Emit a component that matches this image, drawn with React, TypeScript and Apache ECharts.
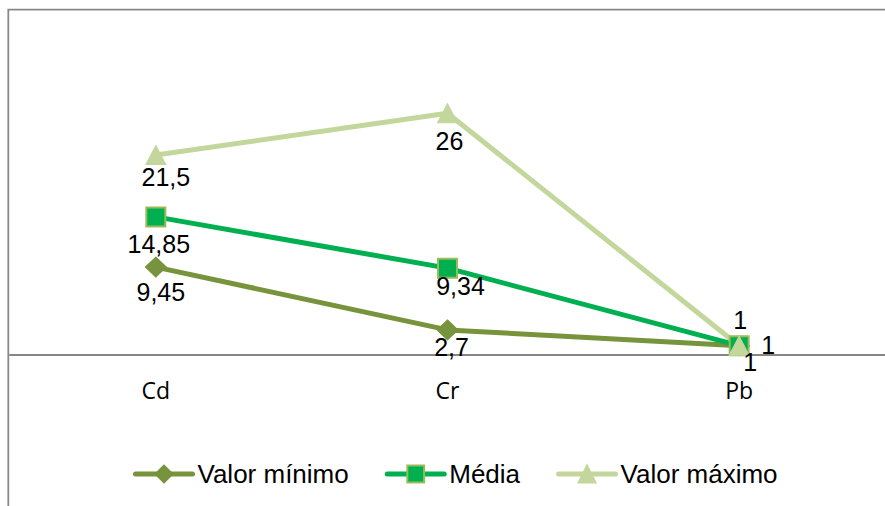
import React, { useEffect, useRef } from "react";
import * as echarts from "echarts";

// Elements and their measured concentrations
const categories = ["Cd", "Cr", "Pb"];
const valorMinimo = [9.45, 2.7, 1];
const media = [14.85, 9.34, 1];
const valorMaximo = [21.5, 26, 1];

// Data label placement (dx, dy from the marker centre), per point
const minLabelShift = [[5, 25], [4, 17], [11, 16]];
const mediaLabelShift = [[3, 27], [13, 18], [29, -1]];
const maxLabelShift = [[10, 22], [2, 28], [1, -26]];

const labelFont = "'Liberation Sans', Arial, sans-serif";

function withLabels(values: number[], shifts: number[][]) {
  return values.map((v, i) => ({
    value: v,
    label: { offset: shifts[i] },
  }));
}

export default function App() {
  const ref = useRef<HTMLDivElement>(null);

  useEffect(() => {
    if (!ref.current) return;
    const chart = echarts.init(ref.current, undefined, { renderer: "svg" });

    const baseLabel = {
      show: true,
      position: "inside",
      color: "#000",
      fontSize: 25,
      lineHeight: 22,
      fontFamily: labelFont,
      formatter: (p: any) => String(p.value).replace(".", ","),
    };

    chart.setOption({
      animation: false,
      backgroundColor: "#fff",
      grid: { left: 10, width: 883, top: 76, bottom: 151, containLabel: false },
      xAxis: {
        type: "category",
        data: categories,
        boundaryGap: true,
        axisLine: { show: true, lineStyle: { color: "#868686", width: 2 } },
        axisTick: { show: false },
        axisLabel: {
          color: "#000",
          fontSize: 23,
          lineHeight: 20,
          fontFamily: "'Open Sans', sans-serif",
          margin: 25,
        },
        splitLine: { show: false },
      },
      yAxis: {
        type: "value",
        min: 0,
        max: 30,
        show: false,
        splitLine: { show: false },
      },
      legend: {
        left: 133,
        top: 461,
        padding: 0,
        itemWidth: 57,
        itemHeight: 21,
        itemGap: 36,
        lineStyle: { width: 5, cap: "round" },
        textStyle: { color: "#000", fontSize: 26, fontFamily: labelFont },
        data: ["Valor mínimo", "Média", "Valor máximo"],
      },
      graphic: [
        {
          type: "rect",
          shape: { x: 8.3, y: 9.6, width: 1000, height: 1000 },
          style: { fill: "none", stroke: "#888888", lineWidth: 1.8 },
          silent: true,
          z: -1,
        },
      ],
      series: [
        {
          name: "Valor mínimo",
          type: "line",
          data: withLabels(valorMinimo, minLabelShift),
          symbol: "diamond",
          symbolSize: [21, 20],
          lineStyle: { color: "#77933C", width: 5, cap: "round" },
          itemStyle: { color: "#77933C", borderColor: "#77933C", borderWidth: 1 },
          label: baseLabel,
        },
        {
          name: "Média",
          type: "line",
          data: withLabels(media, mediaLabelShift),
          symbol: "rect",
          symbolSize: 19,
          lineStyle: { color: "#00B050", width: 5, cap: "round" },
          itemStyle: { color: "#00B050", borderColor: "#9BBB59", borderWidth: 2 },
          label: baseLabel,
        },
        {
          name: "Valor máximo",
          type: "line",
          data: withLabels(valorMaximo, maxLabelShift),
          symbol: "triangle",
          symbolSize: [20, 19],
          lineStyle: { color: "#C3D69B", width: 5, cap: "round" },
          itemStyle: { color: "#C3D69B", borderColor: "#C3D69B", borderWidth: 1 },
          label: baseLabel,
        },
      ],
    });

    return () => chart.dispose();
  }, []);

  return (
    <div
      ref={ref}
      style={{ position: "fixed", left: 0, top: 0, width: 885, height: 506 }}
    />
  );
}
